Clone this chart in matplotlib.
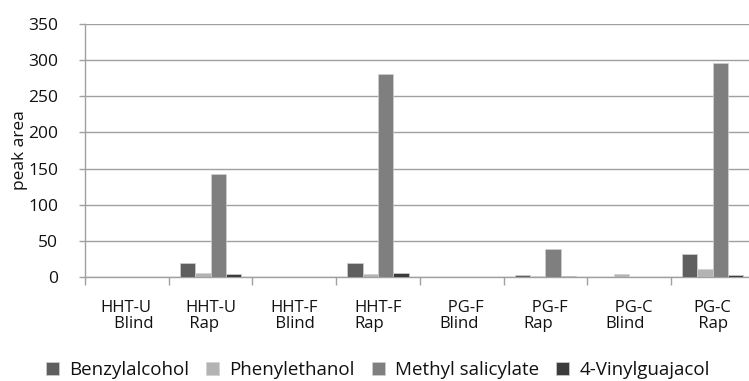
import numpy as np
import matplotlib
matplotlib.use("Agg")
import matplotlib.pyplot as plt

plt.rcParams['font.family'] = ['Open Sans', 'DejaVu Sans']

categories = ["HHT-U\n   Blind", "HHT-U\n Rap", "HHT-F\n Blind", "HHT-F\nRap",
              "  PG-F\nBlind", "  PG-F\nRap", "  PG-C\nBlind", "PG-C\n Rap"]
compounds = ["Benzylalcohol", "Phenylethanol", "Methyl salicylate", "4-Vinylguajacol"]
benzylalcohol = [0, 19, 0, 19, 0, 3, 0, 31.5]
phenylethanol = [0, 4.5, 0, 4, 0, 1, 3.5, 10.5]
methyl_salicylate = [0, 142, 0, 281, 0, 38, 0, 297]
vinylguajacol = [0, 3.5, 0, 5.5, 0, 0.5, 0, 2.5]
yticks = [0, 50, 100, 150, 200, 250, 300, 350]

series = [benzylalcohol, phenylethanol, methyl_salicylate, vinylguajacol]
colors = ['#5f5f5f', '#b3b3b3', '#7f7f7f', '#3c3c3c']

fig = plt.figure(figsize=(7.49, 3.81), dpi=100)
ax = fig.add_axes([0.1135, 0.2737, 0.894, 0.6625])

x = np.arange(len(categories))
w = 0.183
for i, (vals, c) in enumerate(zip(series, colors)):
    ax.bar(x + (i - 1.5) * w, vals, w, color=c, edgecolor='#d0d0d0',
           linewidth=0.5, label=compounds[i], zorder=3)

ax.set_xlim(-0.5, len(categories) - 0.5)
ax.set_ylim(0, 350)
ax.set_yticks(yticks)
ax.tick_params(axis='y', labelsize=12.5, length=4.5, color='#a0a0a0', width=1,
               pad=15, labelcolor='#111111')
ax.yaxis.grid(True, color='#a0a0a0', linewidth=1.0, zorder=0)

ax.set_xticks(x)
ax.set_xticklabels(categories, fontsize=12, multialignment='left', linespacing=1.0)
ax.tick_params(axis='x', length=0, pad=17, labelcolor='#111111')
ax.set_xticks(np.arange(-0.5, len(categories), 1.0), minor=True)
ax.tick_params(axis='x', which='minor', length=6, color='#a0a0a0', width=1)

for s in ['top', 'right']:
    ax.spines[s].set_visible(False)
for s in ['left', 'bottom']:
    ax.spines[s].set_color('#a0a0a0')
    ax.spines[s].set_linewidth(1)

ax.set_ylabel('peak area', fontsize=12.5, labelpad=0, color='#111111')

ax.legend(loc='center', bbox_to_anchor=(0.437, -0.37), ncol=4, frameon=False,
          fontsize=13.5, handlelength=0.7, handleheight=0.7, handletextpad=0.55,
          columnspacing=0.9, labelcolor='#111111')

fig.savefig('out.png', dpi=100)
